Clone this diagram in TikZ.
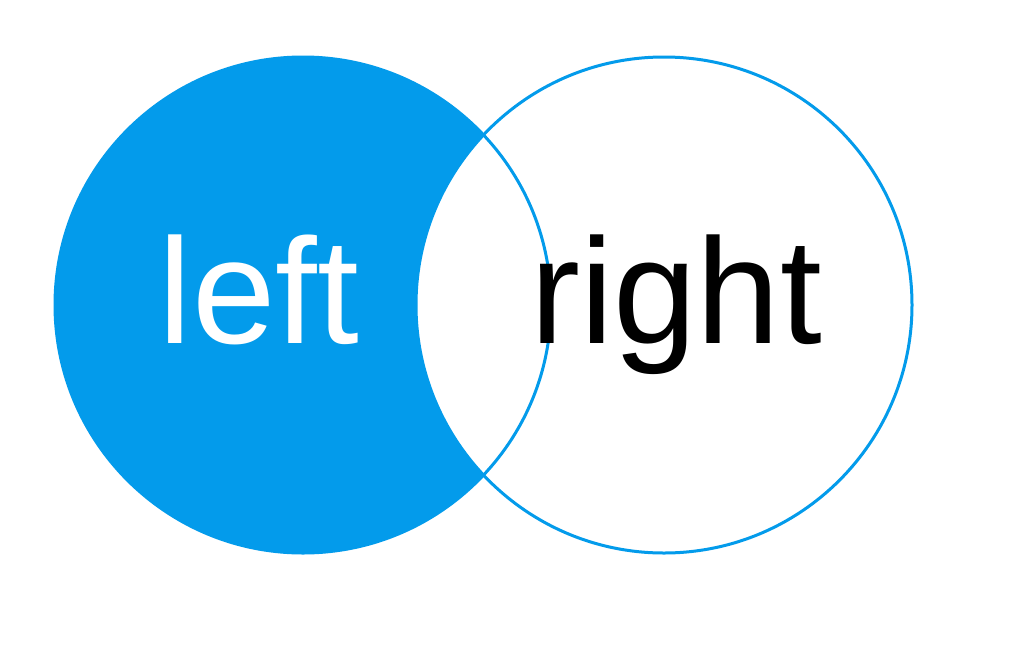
\documentclass[tikz,border=0pt]{standalone}
\usepackage{fontspec}
\setmainfont{Liberation Sans}
\definecolor{vblue}{RGB}{3,155,235}
\begin{document}
\begin{tikzpicture}[x=1pt,y=-1pt,
  circ/.style={circle,minimum size=496pt,inner sep=0pt,line width=3pt,draw=vblue},
  lbl/.style={anchor=base,inner sep=0pt,font=\fontsize{150}{150}\selectfont}]
\useasboundingbox (0,0) rectangle (1034,654);
\fill[white] (0,0) rectangle (1034,654);
\node[circ,fill=vblue] (L) at (303,305) {};
\node[circ,fill=white] (R) at (664,305) {};
\begin{scope}
  \clip (664,305) circle (248);
  \draw[vblue,line width=3pt] (303,305) circle (248);
\end{scope}
\node[lbl,text=white] (lt) at (259,343) {left};
\node[lbl,text=black] (rt) at (676,343) {right};
\end{tikzpicture}
\end{document}
